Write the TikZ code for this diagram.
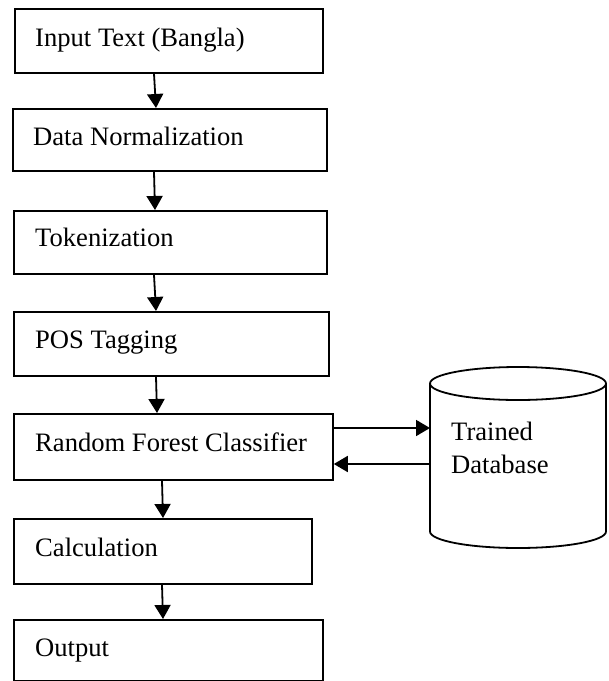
\documentclass[tikz,border=0pt]{standalone}
\usepackage{fontspec}
\setmainfont{Liberation Serif}
\usetikzlibrary{arrows.meta,calc}
\begin{document}
\begin{tikzpicture}[x=1pt,y=-1pt,
  box/.style={draw=black,line width=1.8pt,rectangle,anchor=north west,inner sep=0pt},
  txt/.style={anchor=base west,inner sep=0pt,font=\fontsize{26.6}{30}\selectfont},
  arr/.style={line width=1.8pt,-{Triangle[length=14pt,width=16pt]}}]
\useasboundingbox (0,0) rectangle (609,681);
% boxes
\node[box,minimum width=308pt,minimum height=64pt] (b1) at (14,8) {};
\node[box,minimum width=314pt,minimum height=62pt] (b2) at (12,108) {};
\node[box,minimum width=313pt,minimum height=63pt] (b3) at (13,210) {};
\node[box,minimum width=315pt,minimum height=64pt] (b4) at (13,311) {};
\node[box,minimum width=319pt,minimum height=66pt] (b5) at (13,413) {};
\node[box,minimum width=298pt,minimum height=65pt] (b6) at (13,518) {};
\node[box,minimum width=309pt,minimum height=61pt] (b7) at (13,619) {};
% texts
\node[txt] (t1) at (35,46) {Input Text (Bangla)};
\node[txt] (t2) at (33,145) {Data Normalization};
\node[txt] (t3) at (35,246) {Tokenization};
\node[txt] (t4) at (35,348) {POS Tagging};
\node[txt] (t5) at (35,451) {Random Forest Classifier};
\node[txt] (t6) at (35,556) {Calculation};
\node[txt] (t7) at (35,656) {Output};
% database cylinder
\node[anchor=north west,inner sep=0pt,minimum width=176pt,minimum height=181pt] (db) at (430,367) {};
\draw[line width=1.8pt] (430,383.5) -- (430,531.5) arc[start angle=180,end angle=0,x radius=88,y radius=16.5] -- (606,383.5);
\draw[line width=1.8pt] (518,383.5) ellipse[x radius=88,y radius=16.5];
\node[txt] (t8) at (451,440) {Trained};
\node[txt] (t9) at (451,473) {Database};
% vertical arrows
\draw[arr] ($(b1.south west)+(140,0)$) -- ($(b2.north west)+(144,0)$);
\draw[arr] ($(b2.south west)+(142,0)$) -- ($(b3.north west)+(142,0)$);
\draw[arr] ($(b3.south west)+(141,0)$) -- ($(b4.north west)+(143,0)$);
\draw[arr] ($(b4.south west)+(143,0)$) -- ($(b5.north west)+(144,0)$);
\draw[arr] ($(b5.south west)+(149,0)$) -- ($(b6.north west)+(150,0)$);
\draw[arr] ($(b6.south west)+(149,0)$) -- ($(b7.north west)+(150,0)$);
% horizontal arrows
\coordinate (r1) at (0,428);
\coordinate (r2) at (0,464);
\draw[arr] (b5.east |- r1) -- (db.west |- r1);
\draw[arr] (db.west |- r2) -- (b5.east |- r2);
\end{tikzpicture}
\end{document}
